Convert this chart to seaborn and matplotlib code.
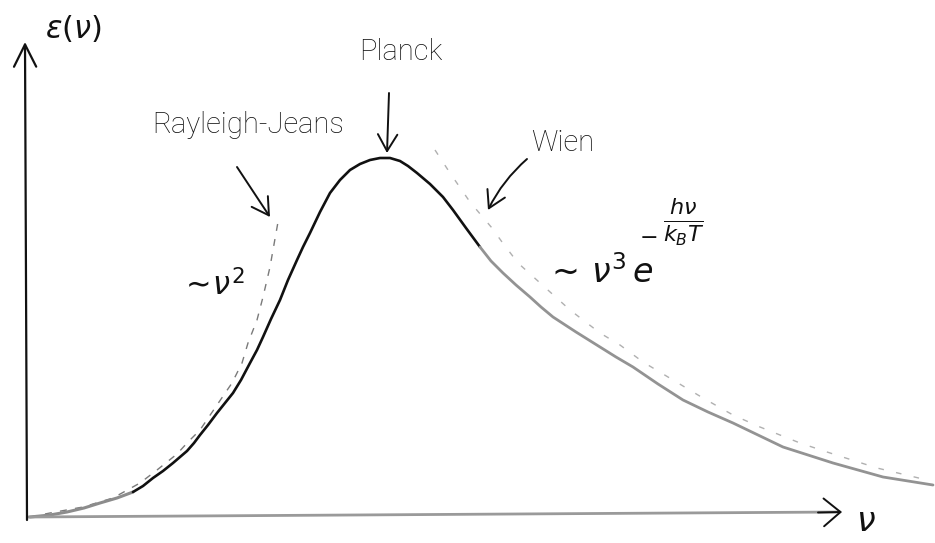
import matplotlib
matplotlib.use("Agg")
import matplotlib.pyplot as plt
import seaborn as sns
import pandas as pd

# Spectral energy density sketch (arbitrary units): frequency nu vs energy E(nu)
planck_nu = [0.02, 0.22, 0.39, 0.56, 0.72, 0.89, 1.05, 1.15, 1.25, 1.35, 1.45, 1.52,
             1.59, 1.66, 1.72, 1.80, 1.89, 1.97, 2.05, 2.13, 2.22, 2.29, 2.35, 2.43,
             2.52, 2.60, 2.69, 2.75, 2.82, 2.92, 3.02, 3.12, 3.22, 3.32, 3.42, 3.52,
             3.62, 3.72, 3.80, 3.89, 4.02, 4.15, 4.25, 4.38, 4.52, 4.63, 4.75, 4.88,
             5.02, 5.13, 5.25, 5.48, 5.72, 5.88, 6.05, 6.30, 6.55, 6.80, 7.05, 7.30,
             7.55, 7.80, 8.05, 8.30, 8.55, 8.80, 9.05]
planck_E = [0.00, 0.02, 0.05, 0.09, 0.14, 0.19, 0.25, 0.31, 0.39, 0.46, 0.54, 0.60,
            0.66, 0.74, 0.82, 0.92, 1.04, 1.14, 1.24, 1.37, 1.54, 1.67, 1.80, 1.98,
            2.17, 2.37, 2.57, 2.70, 2.84, 3.05, 3.24, 3.37, 3.47, 3.53, 3.57, 3.59,
            3.59, 3.56, 3.51, 3.44, 3.33, 3.20, 3.07, 2.89, 2.70, 2.56, 2.44, 2.32,
            2.20, 2.10, 2.00, 1.85, 1.70, 1.60, 1.50, 1.33, 1.17, 1.05, 0.94, 0.82,
            0.70, 0.62, 0.54, 0.47, 0.40, 0.36, 0.32]

rj_nu = [0.02, 0.22, 0.55, 0.85, 1.12, 1.29, 1.49, 1.60, 1.72, 1.89, 2.04, 2.14,
         2.20, 2.29, 2.35, 2.42, 2.45, 2.50]
rj_E = [0.00, 0.04, 0.10, 0.19, 0.34, 0.47, 0.63, 0.75, 0.87, 1.12, 1.34, 1.54,
        1.74, 1.97, 2.20, 2.50, 2.67, 2.95]

wien_nu = [4.07, 4.22, 4.42, 4.64, 4.74, 4.90, 5.42, 5.72, 5.92, 6.15, 6.45, 6.75,
           7.05, 7.32, 7.72, 7.99, 8.49, 8.99]
wien_E = [3.67, 3.44, 3.15, 2.89, 2.75, 2.54, 2.07, 1.84, 1.72, 1.55, 1.37, 1.19,
          1.02, 0.90, 0.74, 0.65, 0.49, 0.37]

labels = {"planck": "Planck", "rj": "Rayleigh-Jeans", "wien": "Wien"}
y_label = r"$\varepsilon(\nu)$"
x_label = r"$\nu$"
rj_formula = r"$\sim\!\nu^2$"
wien_base = r"$\sim\,\nu^3\,e$"
wien_minus = r"$-$"
wien_exponent = r"$\frac{h\nu}{k_BT}$"

sns.set_theme(style="white")
plt.rcParams["font.family"] = ["Roboto", "DejaVu Sans"]
plt.rcParams["mathtext.fontset"] = "dejavusans"

fig = plt.figure(figsize=(9.35, 5.43), dpi=100)
ax = fig.add_axes([0, 0, 1, 1])
ax.set_xlim(-0.28, 9.07)
ax.set_ylim(-0.26, 5.17)
ax.axis("off")

planck = pd.DataFrame({"nu": planck_nu, "E": planck_E})
rj = pd.DataFrame({"nu": rj_nu, "E": rj_E})
wien = pd.DataFrame({"nu": wien_nu, "E": wien_E})


def pencil_line(df, color, lw, dashes=None):
    sns.lineplot(data=df, x="nu", y="E", sort=False, estimator=None,
                 color=color, lw=lw, ax=ax, solid_capstyle="round",
                 solid_joinstyle="round")
    line = ax.get_lines()[-1]
    if dashes is not None:
        line.set_dashes(dashes)
    return line


# pencil-grey approximations
pencil_line(rj, "#7a7a7a", 1.0, dashes=(5, 6))
pencil_line(wien, "#b0b0b0", 1.0, dashes=(4, 9))

# Planck curve: lighter pencil at the ends, inked in the middle
pencil_line(planck.iloc[:7], "#8c8c8c", 2.2)
pencil_line(planck.iloc[6:45], "#111111", 1.9)
pencil_line(planck.iloc[44:], "#939393", 2.0)

# axes drawn as arrows
ax.annotate("", xy=(-0.03, 4.75), xytext=(-0.01, -0.03),
            arrowprops=dict(arrowstyle="->,head_length=0.8,head_width=0.4",
                            color="#111111", lw=1.6, mutation_scale=20,
                            shrinkA=0, shrinkB=0))
ax.plot([0.0, 8.12], [0.0, 0.05], color="#9a9a9a", lw=2.0, solid_capstyle="round")
ax.annotate("", xy=(8.14, 0.05), xytext=(7.9, 0.045),
            arrowprops=dict(arrowstyle="->,head_length=0.6,head_width=0.5",
                            color="#111111", lw=1.4, mutation_scale=20,
                            shrinkA=0, shrinkB=0))

txt = dict(color="#111111", fontweight="light")
ax.text(0.45, 4.88, y_label, fontsize=22, ha="center", va="center", color="#111111")
ax.text(8.38, -0.05, x_label, fontsize=24, ha="center", va="center", color="#111111")

# labels with pointer arrows
ax.text(2.20, 3.92, labels["rj"], fontsize=21, ha="center", va="center", **txt)
ax.annotate("", xy=(2.42, 3.00), xytext=(2.09, 3.50),
            arrowprops=dict(arrowstyle="->,head_length=0.6,head_width=0.35",
                            color="#111111", lw=1.4, mutation_scale=20,
                            shrinkA=0, shrinkB=0))

ax.text(3.73, 4.65, labels["planck"], fontsize=21, ha="center", va="center", **txt)
ax.annotate("", xy=(3.59, 3.64), xytext=(3.61, 4.24),
            arrowprops=dict(arrowstyle="->,head_length=0.6,head_width=0.35",
                            color="#111111", lw=1.4, mutation_scale=20,
                            shrinkA=0, shrinkB=0))

ax.text(5.35, 3.74, labels["wien"], fontsize=21, ha="center", va="center", **txt)
ax.annotate("", xy=(4.60, 3.07), xytext=(4.99, 3.58),
            arrowprops=dict(arrowstyle="->,head_length=0.6,head_width=0.35",
                            color="#111111", lw=1.4, mutation_scale=20,
                            shrinkA=0, shrinkB=0,
                            connectionstyle="arc3,rad=0.1"))

ax.text(1.84, 2.32, rj_formula, fontsize=22, ha="center", va="center", color="#111111")
ax.text(5.17, 2.34, wien_base, fontsize=24, ha="left", va="baseline", color="#111111")
ax.text(6.20, 2.80, wien_minus, fontsize=16, ha="center", va="center", color="#111111")
ax.text(6.56, 2.95, wien_exponent, fontsize=23, ha="center", va="center", color="#111111")

fig.savefig("out.png", dpi=100, facecolor="white")
